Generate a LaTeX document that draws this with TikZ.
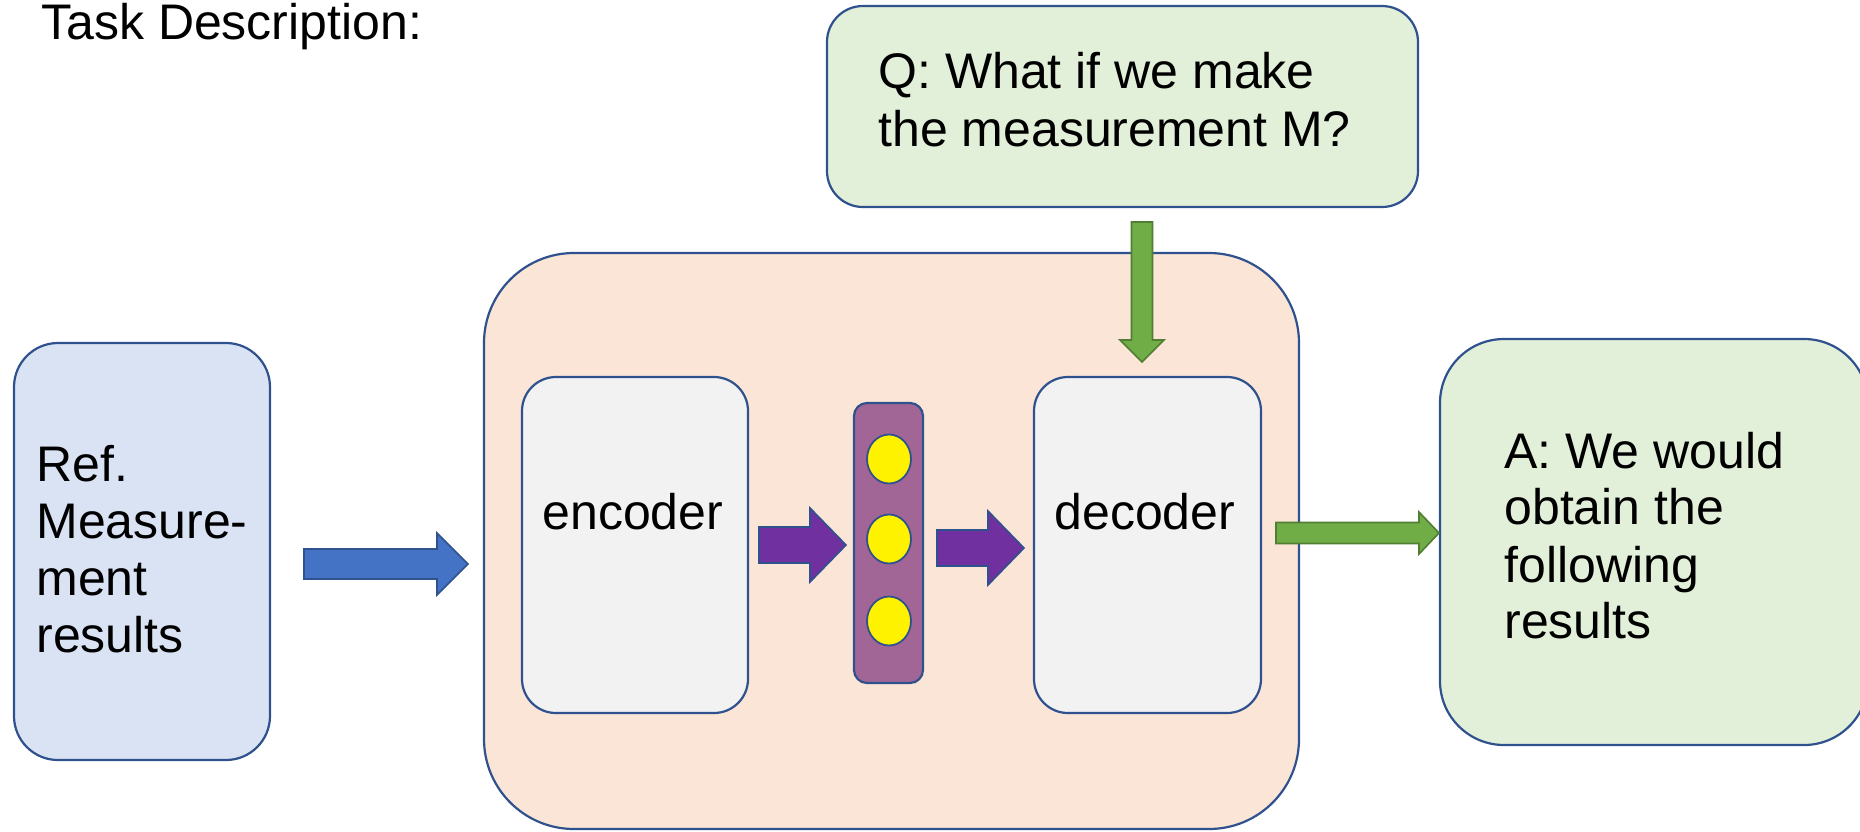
\documentclass[tikz,border=0pt]{standalone}
\usepackage{fontspec}
\setmainfont{Liberation Sans}
\usetikzlibrary{calc,fit,shapes.geometric}
\definecolor{bord}{HTML}{2F528F}
\definecolor{refcol}{HTML}{DAE3F3}
\definecolor{peach}{HTML}{FBE5D6}
\definecolor{lgreen}{HTML}{E2F0D9}
\definecolor{lgray}{HTML}{F2F2F2}
\definecolor{colpurple}{HTML}{A16696}
\definecolor{arrpurple}{HTML}{7030A0}
\definecolor{arrblue}{HTML}{4472C4}
\definecolor{arrgreen}{HTML}{70AD47}
\definecolor{arrgreenb}{HTML}{507E32}
\newcommand{\hbarrow}[6]{\draw[#1] ($(#2)+(0,-#4)$) -- ($(#3)+(-#6,-#4)$) -- ($(#3)+(-#6,-#5)$) -- (#3) -- ($(#3)+(-#6,#5)$) -- ($(#3)+(-#6,#4)$) -- ($(#2)+(0,#4)$) -- cycle;}
\newcommand{\vbarrow}[6]{\draw[#1] ($(#2)+(-#4,0)$) -- ($(#3)+(-#4,-#6)$) -- ($(#3)+(-#5,-#6)$) -- (#3) -- ($(#3)+(#5,-#6)$) -- ($(#3)+(#4,-#6)$) -- ($(#2)+(#4,0)$) -- cycle;}
\begin{document}
\begin{tikzpicture}[x=0.5pt,y=-0.5pt,
  font=\fontsize{25}{28.5}\selectfont,
  box/.style={draw=bord, line width=1.1pt, inner sep=0pt},
  txt/.style={anchor=base west, inner sep=0pt},
  blockblue/.style={fill=arrblue, draw=bord, line width=0.8pt},
  blockpurple/.style={fill=arrpurple, draw=bord, line width=0.8pt},
  blockgreen/.style={fill=arrgreen, draw=arrgreenb, line width=0.8pt},
  dot/.style={ellipse, draw=bord, line width=0.9pt, fill=yellow, minimum width=22pt, minimum height=24.5pt, inner sep=0pt}]
\useasboundingbox (0,0) rectangle (1860,831);

% title
\node[txt] (title) at (41,39) {Task Description:};

% corner coordinates
\path (14,343) coordinate (refA) (270,760) coordinate (refB)
      (484,253) coordinate (bigA) (1299,829) coordinate (bigB)
      (522,377) coordinate (encA) (748,713) coordinate (encB)
      (1034,377) coordinate (decA) (1261,713) coordinate (decB)
      (854,403) coordinate (colA) (923,683) coordinate (colB)
      (827,6) coordinate (qA) (1418,207) coordinate (qB)
      (1440,339) coordinate (ansA) (1868,745) coordinate (ansB);

% boxes
\node[box, fill=refcol, rounded corners=22pt, fit=(refA)(refB)] (ref) {};
\node[box, fill=peach, rounded corners=45pt, fit=(bigA)(bigB)] (model) {};
\node[box, fill=lgray, rounded corners=17pt, fit=(encA)(encB)] (enc) {};
\node[box, fill=lgray, rounded corners=17pt, fit=(decA)(decB)] (dec) {};
\node[box, fill=colpurple, rounded corners=6.5pt, fit=(colA)(colB)] (latent) {};
\node[box, fill=lgreen, rounded corners=18pt, fit=(qA)(qB)] (q) {};
\node[box, fill=lgreen, rounded corners=32pt, fit=(ansA)(ansB)] (ans) {};

% latent units
\node[dot] (d1) at (889,459) {};
\node[dot] (d2) at (889,539) {};
\node[dot] (d3) at (889,621) {};

% texts
\node[txt] (ref1) at (36,481) {Ref.};
\node[txt] (ref2) at (36,538) {Measure-};
\node[txt] (ref3) at (36,595) {ment};
\node[txt] (ref4) at (36,652) {results};
\node[txt] (enct) at (542,529) {encoder};
\node[txt] (dect) at (1054,529) {decoder};
\node[txt] (q1) at (878,88) {Q: What if we make};
\node[txt] (q2) at (878,146) {the measurement M?};
\node[txt] (a1) at (1504,468) {A: We would};
\node[txt] (a2) at (1504,524) {obtain the};
\node[txt] (a3) at (1504,582) {following};
\node[txt] (a4) at (1504,638) {results};

% arrow end points
\coordinate (bS) at (304,564);  \coordinate (bT) at (468,564);
\coordinate (p1S) at (759,545); \coordinate (p1T) at (846,545);
\coordinate (p2S) at (937,548); \coordinate (p2T) at (1024,548);
\coordinate (gS) at (1276,533); \coordinate (gT) at (1439,533);
\coordinate (vS) at (1142,222); \coordinate (vT) at (1142,362);

% block arrows
\hbarrow{blockblue}{bS}{bT}{15}{31}{31}
\hbarrow{blockpurple}{p1S}{p1T}{18}{37}{36}
\hbarrow{blockpurple}{p2S}{p2T}{18}{37}{36}
\hbarrow{blockgreen}{gS}{gT}{10.5}{21}{20}
\vbarrow{blockgreen}{vS}{vT}{10.5}{22}{22}
\end{tikzpicture}
\end{document}
